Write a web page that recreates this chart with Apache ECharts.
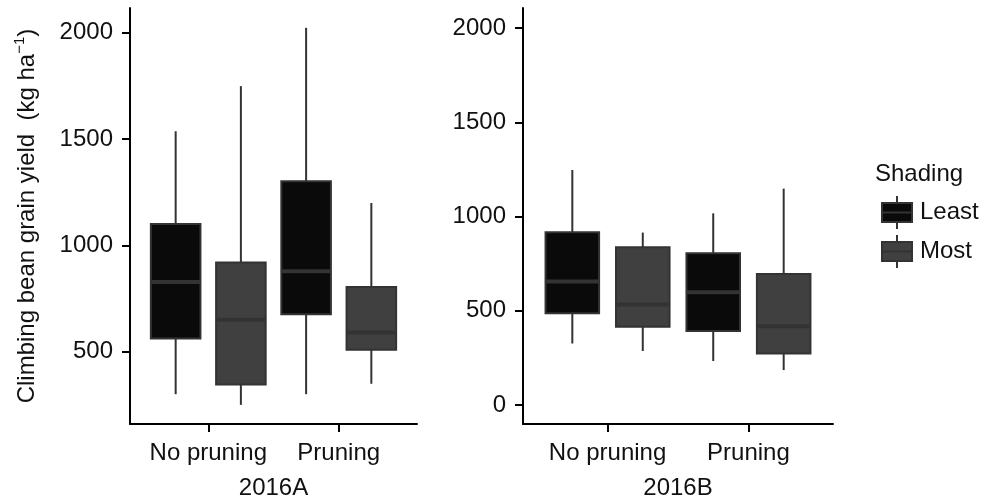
<!DOCTYPE html>
<html lang="en">
<head>
    <meta charset="utf-8">
    <title>Climbing bean grain yield</title>
    <style>
        html, body { margin: 0; padding: 0; background: #fff; }
        #main { width: 983px; height: 500px; }
    </style>
</head>
<body>
    <div id="main"></div>
    <script src="https://cdn.jsdelivr.net/npm/echarts@6/dist/echarts.min.js"></script>
    <script>
        var categories = ['No pruning', 'Pruning'];
        var panels = ['2016A', '2016B'];
        // each box: [min, Q1, median, Q3, max], one per category
        var leastA = [[301, 563, 828, 1100, 1536], [301, 677, 878, 1301, 2022]];
        var mostA = [[251, 346, 651, 920, 1748], [350, 510, 591, 804, 1199]];
        var leastB = [[327, 487, 655, 917, 1247], [234, 393, 598, 805, 1017]];
        var mostB = [[287, 416, 534, 837, 915], [186, 274, 419, 695, 1148]];
        var yTicksA = [500, 1000, 1500, 2000];
        var yTicksB = [0, 500, 1000, 1500, 2000];

        var fillLeast = '#0a0a0a';
        var fillMost = '#404040';
        var edge = '#333333';
        var ink = '#111111';
        var font = "'Liberation Sans', Arial, sans-serif";
        var fs = 24;

        var myChart = echarts.init(document.getElementById('main'));

        // put the category position (1, 2) in front of each box
        function withIndex(boxes) {
            var out = [];
            for (var i = 0; i < boxes.length; i++) {
                out.push([i + 1].concat(boxes[i]));
            }
            return out;
        }

        function boxRenderer(offset, fill) {
            return function (params, api) {
                var cx = api.value(0) + offset;
                var halfW = 0.19;
                var pMin = api.coord([cx, api.value(1)]);
                var pQ1 = api.coord([cx, api.value(2)]);
                var pMed = api.coord([cx, api.value(3)]);
                var pQ3 = api.coord([cx, api.value(4)]);
                var pMax = api.coord([cx, api.value(5)]);
                var left = api.coord([cx - halfW, api.value(3)])[0];
                var right = api.coord([cx + halfW, api.value(3)])[0];
                var line = { stroke: edge, lineWidth: 2 };
                return {
                    type: 'group',
                    children: [
                        { type: 'line', shape: { x1: pMin[0], y1: pMin[1], x2: pQ1[0], y2: pQ1[1] }, style: line },
                        { type: 'line', shape: { x1: pQ3[0], y1: pQ3[1], x2: pMax[0], y2: pMax[1] }, style: line },
                        { type: 'rect', shape: { x: left, y: pQ3[1], width: right - left, height: pQ1[1] - pQ3[1] },
                          style: { fill: fill, stroke: edge, lineWidth: 2 } },
                        { type: 'line', shape: { x1: left, y1: pMed[1], x2: right, y2: pMed[1] },
                          style: { stroke: edge, lineWidth: 4 } }
                    ]
                };
            };
        }

        function xAxisFor(idx, name) {
            return {
                type: 'value',
                gridIndex: idx,
                min: 0.4,
                max: 2.6,
                name: name,
                nameLocation: 'middle',
                nameGap: 52,
                nameTextStyle: { fontSize: fs, color: ink, fontFamily: font },
                splitLine: { show: false },
                axisLine: { show: true, onZero: false, lineStyle: { color: '#000', width: 2 } },
                axisTick: { show: true, length: 8, customValues: [1, 2], lineStyle: { color: '#000', width: 2 } },
                axisLabel: {
                    customValues: [1, 2],
                    margin: 17,
                    fontSize: fs,
                    color: ink,
                    fontFamily: font,
                    formatter: function (v) { return categories[Math.round(v) - 1]; }
                }
            };
        }

        function yAxisFor(idx, min, max, ticks, withName) {
            var axis = {
                type: 'value',
                gridIndex: idx,
                min: min,
                max: max,
                splitLine: { show: false },
                axisLine: { show: true, onZero: false, lineStyle: { color: '#000', width: 2 } },
                axisTick: { show: true, length: 8, customValues: ticks, lineStyle: { color: '#000', width: 2 } },
                axisLabel: {
                    customValues: ticks, margin: 17, fontSize: fs, color: ink, fontFamily: font,
                    formatter: function (v) { return String(Math.round(v)); }
                }
            };
            if (withName) {
                axis.name = '{t|Climbing bean grain yield  (kg ha}{s|\u22121}{t|)}';
                axis.nameLocation = 'middle';
                axis.nameGap = 88;
                axis.nameTextStyle = {
                    color: ink,
                    fontFamily: font,
                    rich: {
                        t: { fontSize: fs, lineHeight: 30, fontFamily: font, color: ink },
                        s: { fontSize: 15, lineHeight: 15, verticalAlign: 'top', fontFamily: font, color: ink }
                    }
                };
            }
            return axis;
        }

        var glyph = 'path://M15 0L15 7M0 7L30 7L30 26L0 26ZM0 16.5L30 16.5M15 26L15 33';

        var option = {
            animation: false,
            backgroundColor: '#fff',
            textStyle: { fontFamily: font },
            title: {
                text: 'Shading',
                left: 875,
                top: 162,
                padding: 0,
                textStyle: { fontSize: fs, fontWeight: 'normal', color: ink, fontFamily: font }
            },
            legend: {
                orient: 'vertical',
                left: 881,
                top: 195,
                padding: 0,
                itemWidth: 30,
                itemHeight: 33,
                itemGap: 4,
                selectedMode: false,
                textStyle: { fontSize: fs, color: ink, fontFamily: font, padding: [0, 0, 0, 3] },
                data: [
                    { name: 'Least', icon: glyph, itemStyle: { color: fillLeast, borderColor: edge, borderWidth: 2 } },
                    { name: 'Most', icon: glyph, itemStyle: { color: fillMost, borderColor: edge, borderWidth: 2 } }
                ]
            },
            grid: [
                { left: 130, top: 8, width: 287, height: 416, outerBoundsMode: 'none' },
                { left: 523, top: 8, width: 310, height: 416, outerBoundsMode: 'none' }
            ],
            xAxis: [xAxisFor(0, panels[0]), xAxisFor(1, panels[1])],
            yAxis: [
                yAxisFor(0, 161, 2115, yTicksA, true),
                yAxisFor(1, -100, 2106, yTicksB, false)
            ],
            series: [
                { name: 'Least', type: 'custom', xAxisIndex: 0, yAxisIndex: 0, renderItem: boxRenderer(-0.25, fillLeast),
                  encode: { x: 0, y: [1, 2, 3, 4, 5] }, itemStyle: { color: fillLeast }, data: withIndex(leastA) },
                { name: 'Most', type: 'custom', xAxisIndex: 0, yAxisIndex: 0, renderItem: boxRenderer(0.25, fillMost),
                  encode: { x: 0, y: [1, 2, 3, 4, 5] }, itemStyle: { color: fillMost }, data: withIndex(mostA) },
                { name: 'Least', type: 'custom', xAxisIndex: 1, yAxisIndex: 1, renderItem: boxRenderer(-0.25, fillLeast),
                  encode: { x: 0, y: [1, 2, 3, 4, 5] }, itemStyle: { color: fillLeast }, data: withIndex(leastB) },
                { name: 'Most', type: 'custom', xAxisIndex: 1, yAxisIndex: 1, renderItem: boxRenderer(0.25, fillMost),
                  encode: { x: 0, y: [1, 2, 3, 4, 5] }, itemStyle: { color: fillMost }, data: withIndex(mostB) }
            ]
        };
        myChart.setOption(option);
    </script>
</body>
</html>
